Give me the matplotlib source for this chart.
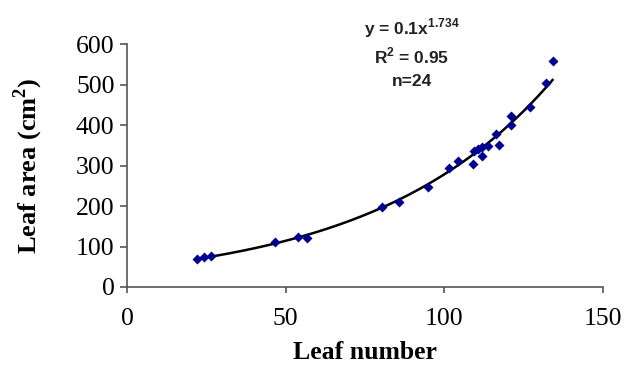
import numpy as np
from matplotlib import pyplot as plt

# leaf number vs leaf area
leaf_number = [22.0, 24.4, 26.5, 46.6, 53.8, 56.8, 80.3, 85.8, 95.0, 101.4,
               104.5, 109.1, 109.4, 110.7, 112.1, 112.1, 113.9, 116.3, 117.2,
               121.0, 121.0, 127.0, 132.1, 134.2]
leaf_area = [70, 73, 76, 111, 123, 122, 197, 209, 246, 295,
             311, 304, 337, 342, 324, 346, 349, 377, 350,
             423, 399, 445, 505, 559]
x_ticks = [0, 50, 100, 150]
y_ticks = [0, 100, 200, 300, 400, 500, 600]

x = np.array(leaf_number)
y = np.array(leaf_area)

# trend line fitted to the points
b, ln_a = np.polyfit(x, np.log(y), 1)
xf = np.linspace(x.min(), x.max(), 200)
yf = np.exp(ln_a) * np.exp(b * xf)

fig = plt.figure(figsize=(6.3, 3.67), dpi=100)
ax = fig.add_axes([0.2016, 0.218, 0.755, 0.662])

ax.plot(xf, yf, color="black", lw=1.8, zorder=2)
ax.scatter(x, y, marker="D", s=26, color="#000090", zorder=3, linewidths=0)

ax.set_xlim(0, 150)
ax.set_ylim(0, 600)
ax.set_xticks(x_ticks)
ax.set_yticks(y_ticks)

serif = "Liberation Serif"
for lab in ax.get_xticklabels() + ax.get_yticklabels():
    lab.set_fontfamily(serif)
    lab.set_fontsize(18.5)
ax.tick_params(axis="x", length=4, pad=11, color="#555555", width=1.2)
ax.tick_params(axis="y", length=5, pad=4, color="#555555", width=1.2)

for s in ["top", "right"]:
    ax.spines[s].set_visible(False)
for s in ["left", "bottom"]:
    ax.spines[s].set_color("#555555")
    ax.spines[s].set_linewidth(1.2)

ax.set_xlabel("Leaf number", fontfamily=serif, fontweight="bold",
              fontsize=18.5, labelpad=8)
ax.set_ylabel("Leaf area (cm$^\\mathregular{2}$)", fontfamily=serif,
              fontweight="bold", fontsize=19, labelpad=22)

txt = dict(ha="center", va="center", fontfamily="Liberation Sans",
           fontweight="bold", fontsize=12.5, color="#222222")
fig.text(412 / 630, 1 - 28 / 367, "y = 0.1x$^\\mathregular{1.734}$", **txt)
fig.text(412 / 630, 1 - 56 / 367, "R$^\\mathregular{2}$ = 0.95", **txt)
fig.text(412 / 630, 1 - 81 / 367, "n=24", **txt)

fig.savefig("out.png", dpi=100)
